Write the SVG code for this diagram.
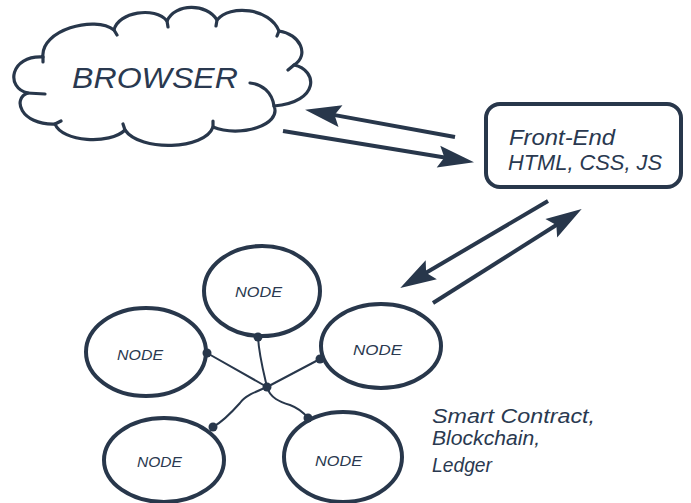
<svg xmlns="http://www.w3.org/2000/svg" width="691" height="503" viewBox="0 0 691 503">
  <defs>
    <style>
      .ink { fill: none; stroke: #28374b; stroke-linecap: round; stroke-linejoin: round; }
      .cloud { stroke-width: 3.2; }
      .node { fill: #ffffff; stroke: #28374b; stroke-width: 4; }
      .box { fill: #ffffff; stroke: #28374b; stroke-width: 4; }
      .arrow { fill: none; stroke: #28374b; stroke-width: 4; marker-end: url(#head); }
      .link { fill: none; stroke: #28374b; stroke-width: 2; stroke-linecap: round; }
      .dot { fill: #28374b; }
      .hand { font-family: "Liberation Sans", "DejaVu Sans", sans-serif; font-style: italic; fill: #2a3950; }
    </style>
    <marker id="head" markerUnits="userSpaceOnUse" markerWidth="38" markerHeight="24" refX="14" refY="11" orient="auto" overflow="visible">
      <path d="M0,0 L36,11 L0,22 L6,11 Z" fill="#28374b"/>
    </marker>
  </defs>

  <rect width="691" height="503" fill="#ffffff"/>

  <!-- Browser cloud -->
  <g id="browser">
    <path class="ink cloud" d="M43,57 C40,30 95,15 114,30 C118,12 155,6 167,21 C175,3 207,3 217,20 C230,4 270,8 279,31 C300,34 310,55 294,65 C318,70 320,102 274,106 C282,125 240,138 213,127 C205,150 140,152 125,130 C110,145 62,142 55,124 C20,125 12,98 28,93 C5,88 10,55 43,57 Z"/>
    <path class="ink cloud" d="M27,93 L45,94 M43,57 L43,62 M114,30 L117,35 M167,21 L168,27 M217,20 L216,26 M279,31 L277,36 M294,65 L288,70 M274,106 C272,92 262,84 250,83 M213,127 L213,121 M125,130 L123,124 M55,124 L61,121"/>
    <text class="hand" x="72" y="88" font-size="29" textLength="166" lengthAdjust="spacingAndGlyphs">BROWSER</text>
  </g>

  <!-- Front-end box -->
  <g id="frontend">
    <rect class="box" x="486" y="104" width="195" height="83" rx="14"/>
    <text class="hand" x="509" y="145" font-size="22" textLength="106" lengthAdjust="spacingAndGlyphs">Front-End</text>
    <text class="hand" x="508" y="170" font-size="22" textLength="154" lengthAdjust="spacingAndGlyphs">HTML, CSS, JS</text>
  </g>

  <!-- Arrows between browser, front end and the network -->
  <g id="connectors">
    <line class="arrow" x1="455" y1="137" x2="326.7" y2="113.6"/>
    <line class="arrow" x1="283" y1="131" x2="452.3" y2="158.8"/>
    <line class="arrow" x1="548" y1="201" x2="419.2" y2="276.8"/>
    <line class="arrow" x1="433" y1="303" x2="563.1" y2="220.7"/>

    <!-- hub links between nodes -->
    <path class="link" d="M267,387 C263,370 259,355 258,337"/>
    <path class="link" d="M267,387 L207,353"/>
    <path class="link" d="M267,387 L320,359"/>
    <path class="link" d="M267,387 C255,392 245,396 240,403 C232,412 222,422 213,427"/>
    <path class="link" d="M267,387 C270,398 280,402 290,405 C298,408 304,413 308,418"/>
  </g>

  <!-- Network nodes -->
  <g id="node-top">
    <ellipse class="node" cx="262" cy="291" rx="58" ry="45"/>
    <text class="hand" x="235" y="297" font-size="15" textLength="47" lengthAdjust="spacingAndGlyphs">NODE</text>
  </g>
  <g id="node-left">
    <ellipse class="node" cx="146" cy="352" rx="60" ry="44"/>
    <text class="hand" x="117" y="360" font-size="15" textLength="46" lengthAdjust="spacingAndGlyphs">NODE</text>
  </g>
  <g id="node-right">
    <ellipse class="node" cx="381" cy="346" rx="60" ry="42"/>
    <text class="hand" x="353" y="355" font-size="15" textLength="49" lengthAdjust="spacingAndGlyphs">NODE</text>
  </g>
  <g id="node-bottom-left">
    <ellipse class="node" cx="164" cy="460" rx="60" ry="42"/>
    <text class="hand" x="137" y="467" font-size="15" textLength="45" lengthAdjust="spacingAndGlyphs">NODE</text>
  </g>
  <g id="node-bottom-right">
    <ellipse class="node" cx="343" cy="457" rx="59" ry="45"/>
    <text class="hand" x="315" y="466" font-size="15" textLength="47" lengthAdjust="spacingAndGlyphs">NODE</text>
  </g>

  <!-- link end dots -->
  <g id="hub">
    <circle class="dot" cx="267" cy="387" r="4.5"/>
    <circle class="dot" cx="258" cy="337" r="4.5"/>
    <circle class="dot" cx="207" cy="353" r="4.5"/>
    <circle class="dot" cx="320" cy="359" r="4.5"/>
    <circle class="dot" cx="213" cy="427" r="4.5"/>
    <circle class="dot" cx="308" cy="418" r="4.5"/>
  </g>

  <!-- Caption -->
  <g id="caption">
    <text class="hand" x="432" y="423" font-size="20" textLength="163" lengthAdjust="spacingAndGlyphs">Smart Contract,</text>
    <text class="hand" x="432" y="445" font-size="20" textLength="108" lengthAdjust="spacingAndGlyphs">Blockchain,</text>
    <text class="hand" x="432" y="472" font-size="20" textLength="60" lengthAdjust="spacingAndGlyphs">Ledger</text>
  </g>
</svg>
